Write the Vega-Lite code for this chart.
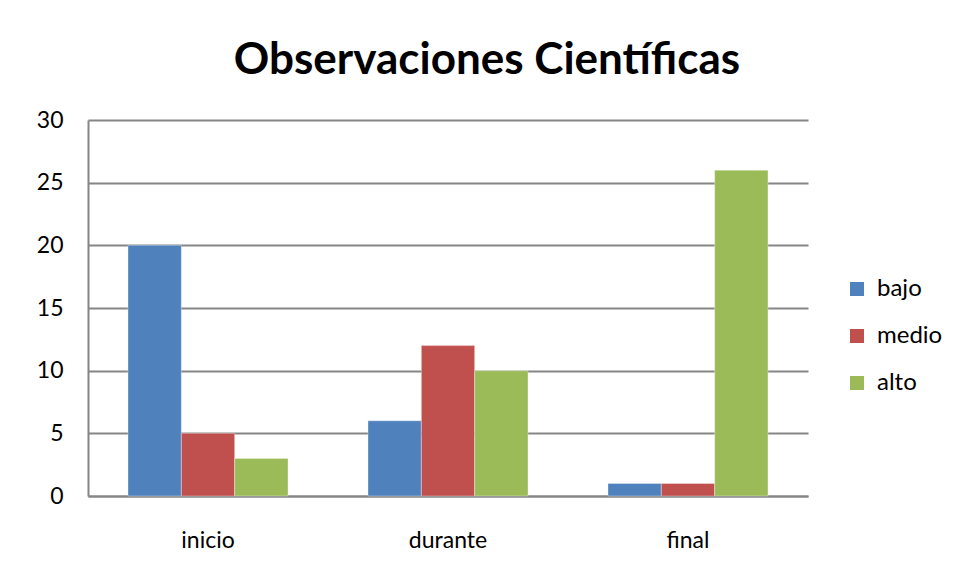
{
  "$schema": "https://vega.github.io/schema/vega-lite/v6.json",
  "width": 720,
  "height": 376,
  "autosize": "none",
  "padding": {"left": 88, "top": 120, "right": 148, "bottom": 84},
  "background": "white",
  "title": {
    "text": "Observaciones Científicas",
    "font": "Lato",
    "fontSize": 44,
    "fontWeight": "bold",
    "color": "#000000",
    "anchor": "middle",
    "dx": 39,
    "offset": 26
  },
  "data": {
    "values": [
      {"fase": "inicio", "nivel": "bajo", "valor": 20},
      {"fase": "inicio", "nivel": "medio", "valor": 5},
      {"fase": "inicio", "nivel": "alto", "valor": 3},
      {"fase": "durante", "nivel": "bajo", "valor": 6},
      {"fase": "durante", "nivel": "medio", "valor": 12},
      {"fase": "durante", "nivel": "alto", "valor": 10},
      {"fase": "final", "nivel": "bajo", "valor": 1},
      {"fase": "final", "nivel": "medio", "valor": 1},
      {"fase": "final", "nivel": "alto", "valor": 26}
    ]
  },
  "mark": {"type": "bar", "stroke": "#ffffff", "strokeOpacity": 0.5, "strokeWidth": 0.7},
  "encoding": {
    "x": {
      "field": "fase",
      "type": "nominal",
      "sort": ["inicio", "durante", "final"],
      "scale": {"paddingInner": 0.3333, "paddingOuter": 0.1667},
      "axis": {
        "title": null,
        "labelAngle": 0,
        "labelFont": "Lato",
        "labelFontSize": 23,
        "labelColor": "#000000",
        "labelPadding": 33,
        "ticks": false,
        "domainColor": "#868686",
        "domainWidth": 2,
        "grid": false
      }
    },
    "xOffset": {"field": "nivel", "type": "nominal", "sort": ["bajo", "medio", "alto"]},
    "y": {
      "field": "valor",
      "type": "quantitative",
      "scale": {"domain": [0, 30], "nice": false},
      "axis": {
        "title": null,
        "values": [0, 5, 10, 15, 20, 25, 30],
        "labelFont": "Lato",
        "labelFontSize": 23,
        "labelColor": "#000000",
        "labelPadding": 25,
        "ticks": false,
        "domainColor": "#868686",
        "domainWidth": 2,
        "gridColor": "#868686",
        "gridWidth": 2
      }
    },
    "color": {
      "field": "nivel",
      "type": "nominal",
      "sort": ["bajo", "medio", "alto"],
      "scale": {"domain": ["bajo", "medio", "alto"], "range": ["#4F81BD", "#C0504D", "#9BBB59"]},
      "legend": {
        "title": null,
        "orient": "none",
        "legendX": 757,
        "legendY": 157,
        "padding": 0,
        "symbolType": "square",
        "symbolSize": 196,
        "symbolStrokeWidth": 0,
        "labelFont": "Lato",
        "labelFontSize": 24,
        "labelColor": "#000000",
        "labelOffset": 8,
        "rowPadding": 23
      }
    }
  },
  "config": {"view": {"stroke": null}}
}
